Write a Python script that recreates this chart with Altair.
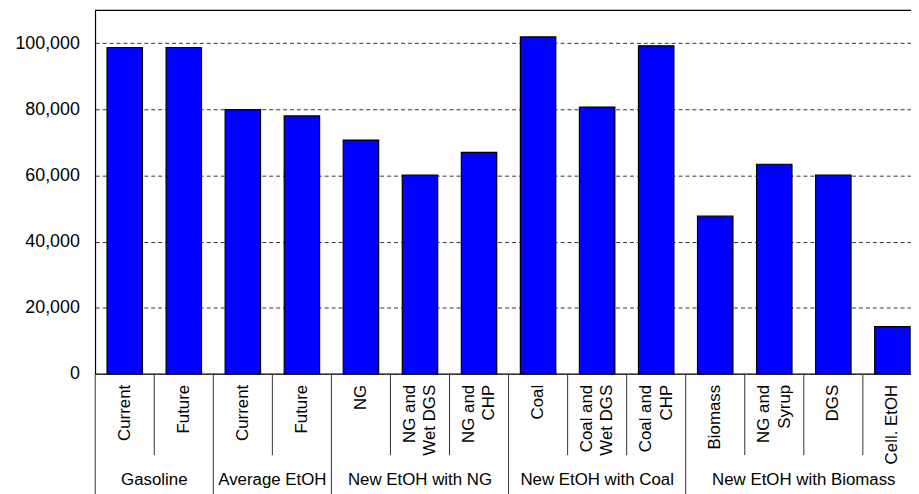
import altair as alt
import pandas as pd

groups = ["Gasoline", "Gasoline", "Average EtOH", "Average EtOH",
          "New EtOH with NG", "New EtOH with NG", "New EtOH with NG",
          "New EtOH with Coal", "New EtOH with Coal", "New EtOH with Coal",
          "New EtOH with Biomass", "New EtOH with Biomass", "New EtOH with Biomass", "New EtOH with Biomass"]
labels = ["Current", "Future", "Current", "Future",
          "NG", "NG and\nWet DGS", "NG and\nCHP",
          "Coal", "Coal and\nWet DGS", "Coal and\nCHP",
          "Biomass", "NG and\nSyrup", "DGS", "Cell. EtOH"]
values = [98700, 98700, 79900, 78000,
          70700, 60100, 67000,
          101900, 80700, 99200,
          47700, 63400, 60100, 14300]
y_ticks = [0, 20000, 40000, 60000, 80000, 100000]

ids = [f"{i:02d}" for i in range(len(labels))]
group_start = [i == 0 or groups[i] != groups[i - 1] for i in range(len(groups))]
two_line = ["\n" in lab for lab in labels]

df = pd.DataFrame({"id": ids, "label": labels, "value": values,
                   "group": groups, "start": group_start, "two": two_line})

# group label anchors
grp_names = []
for g in groups:
    if g not in grp_names:
        grp_names.append(g)
g_rows = []
for g in grp_names:
    idx = [i for i, gg in enumerate(groups) if gg == g]
    n = len(idx)
    if n % 2 == 0:
        g_rows.append({"group": g, "id": ids[idx[n // 2 - 1]], "even": True})
    else:
        g_rows.append({"group": g, "id": ids[idx[n // 2]], "even": False})
gdf = pd.DataFrame(g_rows)

FONT = "Liberation Sans"
xscale = alt.Scale(domain=ids, paddingInner=0, paddingOuter=0)

base = alt.Chart(df)

bars = base.mark_bar(width=alt.RelativeBandSize(0.6), fill="#0000FF",
                     stroke="black", strokeWidth=1.2).encode(
    x=alt.X("id:N", scale=xscale, sort=ids, axis=None),
    y=alt.Y("value:Q",
            scale=alt.Scale(domain=[0, 110000], nice=False),
            axis=alt.Axis(values=y_ticks, format=",d", title=None,
                          labelFont=FONT, labelFontSize=18, labelColor="black",
                          labelPadding=16, ticks=False, domain=False,
                          grid=True, gridDash=[4, 3], gridColor="#333333",
                          gridWidth=1)),
)

cat_one = base.transform_filter("!datum.two").mark_text(
    angle=270, align="right", baseline="middle",
    font=FONT, fontSize=17, lineHeight=21, color="black").encode(
    x=alt.X("id:N", scale=xscale, sort=ids),
    y=alt.value(378),
    text="label:N",
)
cat_two = base.transform_filter("datum.two").mark_text(
    angle=270, align="right", baseline="middle", dy=-10.5,
    font=FONT, fontSize=17, lineHeight=21, lineBreak="\n", color="black").encode(
    x=alt.X("id:N", scale=xscale, sort=ids),
    y=alt.value(378),
    text="label:N",
)

short_sep = base.transform_filter("!datum.start").mark_rule(
    color="#333333", strokeWidth=1).encode(
    x=alt.X("id:N", scale=xscale, sort=ids, bandPosition=0),
    y=alt.value(367), y2=alt.value(449),
)
long_sep = base.transform_filter("datum.start").mark_rule(
    color="#333333", strokeWidth=1).encode(
    x=alt.X("id:N", scale=xscale, sort=ids, bandPosition=0),
    y=alt.value(367), y2=alt.value(500),
)

gbase = alt.Chart(gdf)
g_even = gbase.transform_filter("datum.even").mark_text(
    align="center", baseline="middle", font=FONT, fontSize=17, color="black").encode(
    x=alt.X("id:N", scale=xscale, sort=ids, bandPosition=1),
    y=alt.value(474),
    text="group:N",
)
g_odd = gbase.transform_filter("!datum.even").mark_text(
    align="center", baseline="middle", font=FONT, fontSize=17, color="black").encode(
    x=alt.X("id:N", scale=xscale, sort=ids, bandPosition=0.5),
    y=alt.value(474),
    text="group:N",
)

# the plot area runs a little past the right edge of the window, as in the reference
chart = alt.layer(bars, cat_one, cat_two, short_sep, long_sep, g_even, g_odd).properties(
    width=834, height=367,
    autosize=alt.AutoSizeParams(type="none"),
    padding={"left": 88, "top": 0, "right": -11, "bottom": 119},
).configure_view(stroke="black", strokeWidth=1.2)

chart.save("out.html", embed_options={"renderer": "svg", "actions": False})
